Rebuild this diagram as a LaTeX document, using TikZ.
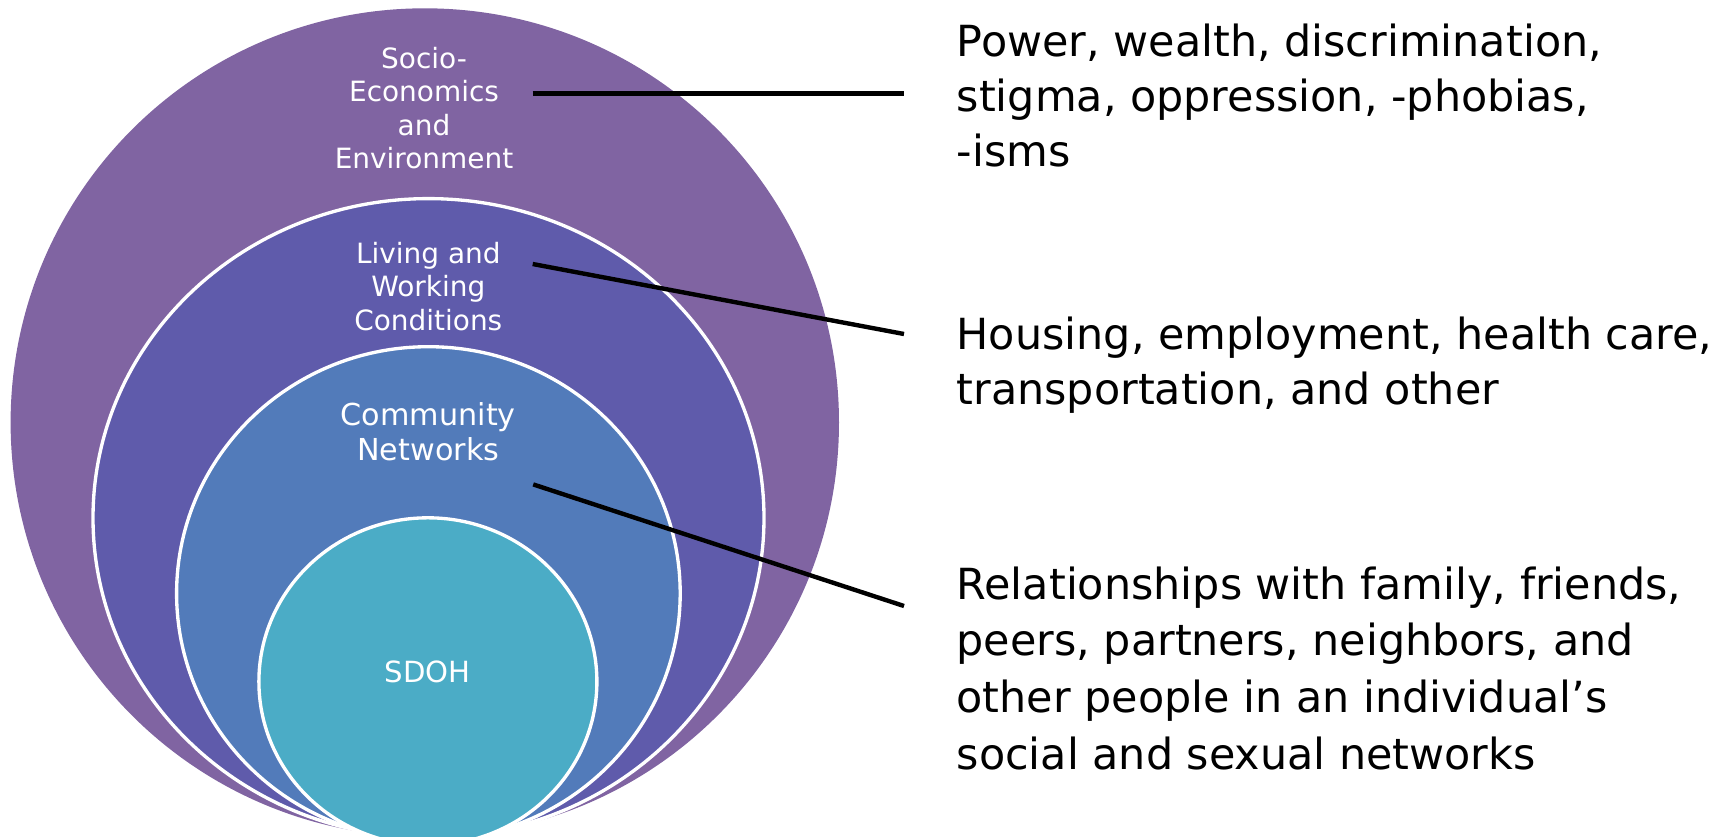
\documentclass[tikz,border=0pt]{standalone}
\usepackage{fontspec}
\setmainfont{DejaVu Sans}
\definecolor{socio}{HTML}{8064A2}
\definecolor{living}{HTML}{5F5BAB}
\definecolor{commnet}{HTML}{527BBA}
\definecolor{sdohc}{HTML}{4BACC6}
\tikzset{
  ring/.style={draw=white, line width=0.95pt},
  inlabel/.style={text=white, align=center, inner sep=0pt, anchor=base,
    font=\fontsize{7.95}{9.45}\selectfont},
  outlabel/.style={align=left, inner sep=0pt, anchor=base west,
    font=\fontsize{12.2}{15.6}\selectfont},
  leader/.style={line width=1.25pt, black,
    preaction={draw=black, opacity=0.25, line width=1.7pt,
      transform canvas={shift={(0.2mm,-0.25mm)}}}}
}
\begin{document}
\begin{tikzpicture}[x=0.1mm,y=-0.1mm]
  \useasboundingbox (0,0) rectangle (1733,836);
  \begin{scope}
    \clip (0,0) rectangle (1733,836);
    \fill[socio] (424.8,422.5) circle [radius=41.42mm];
    \filldraw[fill=living, ring] (428.5,518.0) ellipse [x radius=33.55mm, y radius=31.94mm];
    \filldraw[fill=commnet, ring] (428.4,593.4) ellipse [x radius=25.18mm, y radius=24.67mm];
    \filldraw[fill=sdohc, ring] (427.9,681.6) ellipse [x radius=16.9mm, y radius=16.38mm];
  \end{scope}
  \draw
    (424,168.3) node[inlabel] (socio){Socio-\\Economics\\and\\Environment}
    (428.3,330) node[inlabel] (livwork){Living and\\Working\\Conditions}
    (428.3,460) node[inlabel, font=\fontsize{8.6}{9.95}\selectfont] (commnw){Community\\Networks}
    (427.8,682.7) node[inlabel, font=\fontsize{8.3}{10}\selectfont] (sdoh){SDOH};
  \draw
    (956,166) node[outlabel] (power){Power, wealth, discrimination,\\stigma, oppression, -phobias,\\-isms}
    (956,404) node[outlabel] (housing){Housing, employment, health care,\\transportation, and other}
    (956,769) node[outlabel, font=\fontsize{12.2}{16.1}\selectfont] (relation){Relationships with family, friends,\\peers, partners, neighbors, and\\other people in an individual’s\\social and sexual networks};
  \coordinate (s1) at (532.7,93.3);
  \coordinate (e1) at (904,93.3);
  \coordinate (s2) at (532.7,264);
  \coordinate (e2) at (904,334);
  \coordinate (s3) at (533.2,484.4);
  \coordinate (e3) at (904,606);
  \begin{scope}[leader]
    \draw (s1) to (e1);
    \draw (s2) to (e2);
    \draw (s3) to (e3);
  \end{scope}
\end{tikzpicture}
\end{document}
